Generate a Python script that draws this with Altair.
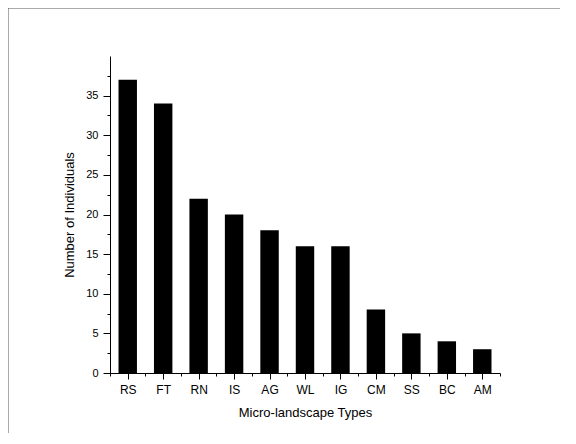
import altair as alt
import pandas as pd

categories = ["RS", "FT", "RN", "IS", "AG", "WL", "IG", "CM", "SS", "BC", "AM"]
counts = [37, 34, 22, 20, 18, 16, 16, 8, 5, 4, 3]
y_major = [0, 5, 10, 15, 20, 25, 30, 35]
y_minor = [2.5, 7.5, 12.5, 17.5, 22.5, 27.5, 32.5, 37.5]

df = pd.DataFrame({"idx": list(range(len(categories))), "cat": categories, "count": counts})
x_major = list(range(len(categories)))
x_minor = [i - 0.5 for i in range(len(categories) + 1)]

W, H = 390, 317
PL, PT, PR, PB = 102, 48, 60, 60
FONT = "Liberation Sans"

label_expr = "[" + ",".join("'%s'" % c for c in categories) + "][round(datum.value)]"

xscale = alt.Scale(domain=[-0.5, len(categories) - 0.5], nice=False, zero=False)
yscale = alt.Scale(domain=[0, 40], nice=False)

bars = alt.Chart(df).transform_calculate(
    x0="datum.idx - 0.26", x1="datum.idx + 0.26", base="0"
).mark_bar(color="black").encode(
    x=alt.X("x0:Q", scale=xscale, axis=alt.Axis(
        orient="bottom", values=x_major, labelExpr=label_expr, tickSize=6,
        title="Micro-landscape Types", grid=False, domainColor="black",
        tickColor="black", labelColor="black", titleColor="black",
        labelFont=FONT, titleFont=FONT, labelFontSize=12, titleFontSize=13,
        titleFontWeight="normal", labelPadding=5, titlePadding=11)),
    x2="x1:Q",
    y=alt.Y("count:Q", scale=yscale, axis=alt.Axis(
        orient="left", values=y_major, tickSize=7, title="Number of Individuals",
        grid=False, domainColor="black", tickColor="black", labelColor="black",
        titleColor="black", labelFont=FONT, titleFont=FONT, labelFontSize=11,
        titleFontSize=13, titleFontWeight="normal", labelPadding=5, titlePadding=9)),
    y2="base:Q",
)

minor = alt.Chart(df).mark_point(opacity=0).encode(
    x=alt.X("idx:Q", scale=xscale, axis=alt.Axis(
        orient="bottom", values=x_minor, tickSize=3, labels=False, domain=False,
        grid=False, title=None, tickColor="black")),
    y=alt.Y("count:Q", scale=yscale, axis=alt.Axis(
        orient="left", values=y_minor, tickSize=3, labels=False, domain=False,
        grid=False, title=None, tickColor="black")),
)

one = pd.DataFrame({"a": [0]})
border_top = alt.Chart(one).mark_rule(color="#555", strokeDash=[1, 1], strokeWidth=1).encode(
    x=alt.value(-PL + 0.5), x2=alt.value(W + PR), y=alt.value(-PT + 0.5))
border_left = alt.Chart(one).mark_rule(color="#555", strokeDash=[1, 1], strokeWidth=1).encode(
    x=alt.value(-PL + 0.5), y=alt.value(-PT + 0.5), y2=alt.value(H + PB))

chart = alt.layer(bars, minor, border_top, border_left).resolve_axis(
    x="independent", y="independent"
).properties(
    width=W, height=H,
    autosize=alt.AutoSizeParams(type="none"),
    padding={"left": PL, "top": PT, "right": PR, "bottom": PB},
).configure_view(stroke=None)

chart.save("out.html", embed_options={"renderer": "svg", "actions": False})
